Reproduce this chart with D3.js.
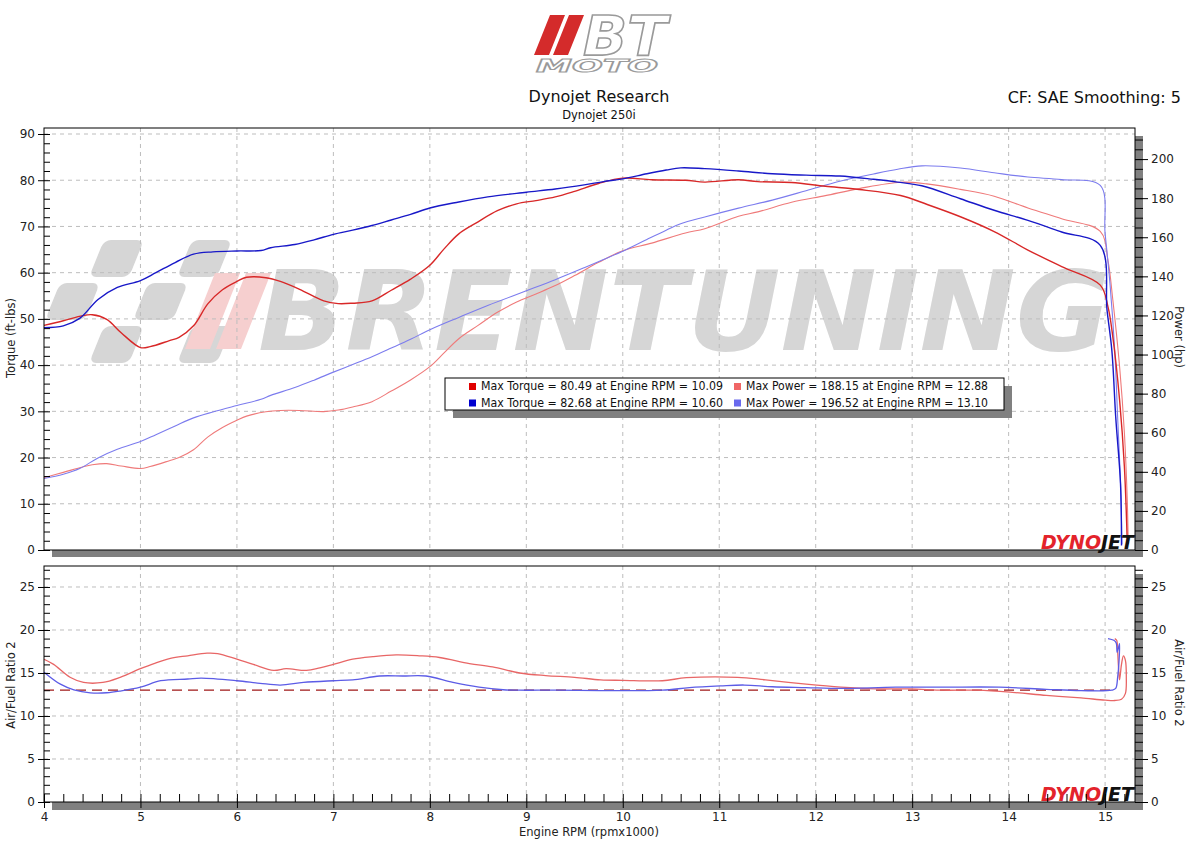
<!DOCTYPE html>
<html><head><meta charset="utf-8">
<script src="https://cdn.jsdelivr.net/npm/d3@7/dist/d3.min.js"></script>
<style>
body{margin:0;background:#fff}
svg{display:block}
text{font-family:"DejaVu Sans",Verdana,sans-serif}
</style>
</head><body>
<svg id="c" width="1200" height="854"></svg>
<script>
// ---------------- DATA ----------------
const title = "Dynojet Research";
const subtitle = "Dynojet 250i";
const corrText = "CF: SAE Smoothing: 5";
const legendRows = [
  ["Max Torque = 80.49 at Engine RPM = 10.09", "Max Power = 188.15 at Engine RPM = 12.88"],
  ["Max Torque = 82.68 at Engine RPM = 10.60", "Max Power = 196.52 at Engine RPM = 13.10"]
];
const rpmTicks = [4,5,6,7,8,9,10,11,12,13,14,15];
const torqueTicks = [0,10,20,30,40,50,60,70,80,90];
const powerTicks = [0,20,40,60,80,100,120,140,160,180,200];
const afrTicks = [0,5,10,15,20,25];
const afrTarget = 13;

// Run 1 (red)
const rpmTorque1 = [4.0,4.2,4.4,4.5,4.65,4.8,5.0,5.1,5.3,5.4,5.55,5.7,5.85,6.0,6.1,6.3,6.45,6.65,6.9,7.05,7.2,7.4,7.6,7.8,8.0,8.15,8.3,8.5,8.7,8.9,9.1,9.3,9.5,9.75,10.0,10.3,10.65,10.85,11.2,11.4,11.75,12.1,12.45,12.88,13.15,13.5,13.85,14.2,14.55,14.95,15.03,15.08,15.15,15.2,15.23];
const torque1 = [48.6,49.6,50.7,50.9,49.9,47.0,43.8,44.0,45.3,46.0,48.5,53.3,56.3,58.1,59.0,58.9,58.1,56.4,53.9,53.3,53.4,53.9,56.2,58.6,61.6,65.2,68.4,71.0,73.4,74.9,75.6,76.4,77.6,79.3,80.45,80.1,80.0,79.6,80.1,79.7,79.5,78.7,78.0,76.7,74.8,72.1,68.9,64.9,61.3,57.3,52.6,46.1,32.5,18.0,1.5];
const rpmPower1 = [4.0,4.2,4.4,4.5,4.65,4.8,5.0,5.1,5.3,5.4,5.55,5.7,5.85,6.0,6.1,6.3,6.45,6.65,6.9,7.05,7.2,7.4,7.6,7.8,8.0,8.15,8.3,8.5,8.7,8.9,9.1,9.3,9.5,9.75,10.0,10.3,10.65,10.85,11.2,11.4,11.75,12.1,12.45,12.88,13.15,13.5,13.85,14.2,14.55,14.95,15.03,15.08,15.15,15.2,15.23,15.24];
const power1 = [37.0,39.7,42.5,43.6,44.2,43.0,41.7,42.7,45.7,47.3,51.3,57.9,62.7,66.4,68.5,70.7,71.4,71.4,70.8,71.6,73.2,75.9,81.3,87.0,93.8,101.0,108.1,114.9,121.6,126.9,131.0,135.3,140.4,147.2,153.1,157.0,162.2,164.4,170.8,173.0,177.9,181.3,184.9,188.15,187.3,184.5,181.0,175.0,169.5,163.0,148,128,94,60,25,3];

// Run 2 (blue)
const rpmTorque2 = [4.0,4.2,4.37,4.56,4.76,5.0,5.16,5.36,5.55,5.75,6.0,6.25,6.35,6.6,6.8,7.0,7.2,7.4,7.6,7.8,8.0,8.3,8.6,9.0,9.3,9.6,9.8,10.0,10.25,10.45,10.6,10.85,11.2,11.55,11.9,12.25,12.6,12.85,13.1,13.5,13.85,14.2,14.55,14.95,15.02,15.07,15.11,15.16,15.17];
const torque2 = [48.1,48.5,50.1,54.2,56.8,58.3,60.0,62.2,64.0,64.5,64.7,64.8,65.4,66.1,67.1,68.3,69.2,70.2,71.4,72.6,74.0,75.3,76.4,77.4,78.1,79.0,79.7,80.3,81.4,82.2,82.68,82.5,82.0,81.4,81.1,80.9,80.2,79.6,78.8,76.0,73.5,71.3,68.8,65.9,51.9,43.2,28.8,14.3,1.0];
const rpmPower2 = [4.0,4.2,4.37,4.56,4.76,5.0,5.16,5.36,5.55,5.75,6.0,6.25,6.35,6.6,6.8,7.0,7.2,7.4,7.6,7.8,8.0,8.3,8.6,9.0,9.3,9.6,9.8,10.0,10.25,10.45,10.6,10.85,11.2,11.55,11.9,12.25,12.6,12.85,13.1,13.5,13.85,14.2,14.55,14.95,15.0,15.05,15.1,15.13,15.16,15.175];
const power2 = [36.6,38.8,41.7,47.1,51.5,55.5,59.0,63.5,67.6,70.6,73.9,77.1,79.1,83.1,86.9,91.0,94.9,98.9,103.3,107.8,112.7,119.0,125.1,132.6,138.3,144.4,148.6,152.9,158.9,163.6,166.9,170.4,174.9,179.0,183.8,188.7,192.4,194.8,196.52,195.4,193.0,190.8,189.5,186.5,162,136.6,102,68,34,3];

// Air/Fuel ratio
const rpmAfr1 = [4.0,4.1,4.27,4.41,4.61,4.79,5.0,5.14,5.31,5.49,5.69,5.8,6.0,6.17,6.38,6.51,6.72,6.86,7.0,7.2,7.41,7.65,7.89,8.1,8.41,8.65,8.93,9.2,9.5,9.77,10.0,10.41,10.66,11.19,11.48,11.9,12.26,12.62,12.97,13.33,13.68,14.04,14.39,14.75,15.0,15.1,15.17,15.21,15.22,15.21,15.19,15.17,15.15,15.14,15.13,15.12,15.1];
const afr1 = [16.6,16.0,14.5,13.9,13.9,14.5,15.5,16.1,16.7,17.0,17.3,17.25,16.6,16.0,15.3,15.5,15.3,15.6,16.0,16.6,16.9,17.1,17.0,16.8,16.1,15.7,15.0,14.7,14.5,14.2,14.15,14.1,14.45,14.5,14.2,13.7,13.35,13.15,13.15,13.0,13.0,12.75,12.4,12.1,11.85,11.8,11.95,12.6,14.5,16.5,17.0,16.0,14.2,15.5,17.5,18.8,19.0];
const rpmAfr2 = [4.0,4.17,4.31,4.48,4.65,4.79,5.0,5.21,5.49,5.63,6.0,6.24,6.45,6.69,7.0,7.2,7.48,7.72,7.96,8.24,8.51,8.76,8.93,9.3,9.77,10.41,10.69,11.01,11.26,11.55,11.9,12.26,12.83,13.33,13.9,14.39,14.75,15.07,15.11,15.13,15.145,15.15,15.14,15.125,15.115,15.09,15.03];
const afr2 = [15.1,13.7,13.05,12.7,12.7,12.9,13.35,14.1,14.3,14.4,14.1,13.8,13.6,13.9,14.1,14.2,14.65,14.65,14.65,13.9,13.35,13.05,13.0,13.0,12.95,13.0,13.3,13.5,13.6,13.4,13.3,13.2,13.35,13.35,13.35,13.1,12.95,13.0,13.2,14.5,16.5,18.4,18.0,17.4,18.5,18.8,19.0];

// ---------------- DRAW ----------------
const FONT = '"DejaVu Sans",Verdana,sans-serif';
const svg = d3.select('#c');
const X  = d3.scaleLinear().domain([4, 15.31]).range([44, 1135]);
const YT = d3.scaleLinear().domain([0, 91.3]).range([550, 128]);
const YP = d3.scaleLinear().domain([0, 215.9]).range([550, 128]);
const YA = d3.scaleLinear().domain([0, 27.44]).range([802, 566]);
const SH = '#808080';
const GRID = '#bdbdbd';

// header logo
const logo = svg.append('g');
logo.append('polygon').attr('points','550,15 565,15 549,55 534,55').attr('fill','#d42b2b');
logo.append('polygon').attr('points','569,15 584,15 568,55 553,55').attr('fill','#d42b2b');
const lt = logo.append('text').attr('font-family','"Liberation Sans",Arial,sans-serif')
  .attr('font-weight','bold').attr('font-style','italic').attr('fill','#fff').attr('stroke','#9a9a9a');
lt.append('tspan').attr('x',583).attr('y',55).attr('font-size',56).attr('stroke-width',1.6)
  .attr('textLength',84).attr('lengthAdjust','spacingAndGlyphs').text('BT');
lt.append('tspan').attr('x',536).attr('y',72).attr('font-size',17).attr('stroke-width',1)
  .attr('textLength',122).attr('lengthAdjust','spacingAndGlyphs').text('MOTO');

svg.append('text').attr('x',599).attr('y',102).attr('text-anchor','middle').attr('font-size',16).attr('fill','#111').text(title);
svg.append('text').attr('x',599).attr('y',119).attr('text-anchor','middle').attr('font-size',11.5).attr('fill','#111').text(subtitle);
svg.append('text').attr('x',1181).attr('y',103).attr('text-anchor','end').attr('font-size',16).attr('fill','#111').text(corrText);

// panel backgrounds with drop shadows
svg.append('rect').attr('x',52).attr('y',136).attr('width',1091).attr('height',421).attr('fill',SH);
svg.append('rect').attr('x',44).attr('y',128).attr('width',1091).attr('height',422).attr('fill','#fff');
svg.append('rect').attr('x',52).attr('y',574).attr('width',1091).attr('height',236).attr('fill',SH);
svg.append('rect').attr('x',44).attr('y',566).attr('width',1091).attr('height',236).attr('fill','#fff');

// watermark (top panel)
svg.append('clipPath').attr('id','clipTop').append('rect').attr('x',44).attr('y',128).attr('width',1091).attr('height',422);
const wm = svg.append('g').attr('clip-path','url(#clipTop)');
const WMC = '#d6d6d6';
const chk = wm.append('g');
const cells = [[0,1],[0,3],[1,0],[1,2],[2,1],[2,3]];
cells.forEach(([r,c])=>{
  const y0 = 240 + r*43, x0 = 60 + c*44;
  chk.append('rect').attr('x',x0).attr('y',y0).attr('width',40).attr('height',37).attr('rx',7)
    .attr('fill',WMC).attr('transform',`skewX(-22) translate(${y0*0.404},0)`);
});
wm.append('polygon').attr('points','215,273 240,273 210,349 185,349').attr('fill','#f6cfcf');
wm.append('polygon').attr('points','246,273 271,273 241,349 216,349').attr('fill','#f6cfcf');
wm.append('text').attr('x',258).attr('y',350).attr('font-family','"Liberation Sans",Arial,sans-serif')
  .attr('font-weight','bold').attr('font-style','italic').attr('font-size',110)
  .attr('textLength',852).attr('lengthAdjust','spacingAndGlyphs').attr('fill',WMC).text('BRENTUNING');

// gridlines
function grid(y0, y1, yScale, yVals){
  const g = svg.append('g').attr('stroke',GRID).attr('stroke-dasharray','4,4').attr('stroke-width',1);
  g.selectAll('line.v').data(rpmTicks.slice(1)).join('line')
    .attr('x1',d=>X(d)).attr('x2',d=>X(d)).attr('y1',y0).attr('y2',y1);
  g.selectAll('line.h').data(yVals).join('line')
    .attr('x1',44).attr('x2',1135).attr('y1',d=>yScale(d)).attr('y2',d=>yScale(d));
}
grid(128, 550, YT, torqueTicks.slice(1));
grid(566, 802, YA, afrTicks.slice(1));

// curves
const lineT = d3.line().x(d=>X(d[0])).y(d=>YT(d[1])).curve(d3.curveCatmullRom.alpha(0.5));
const lineP = d3.line().x(d=>X(d[0])).y(d=>YP(d[1])).curve(d3.curveCatmullRom.alpha(0.5));
const lineA = d3.line().x(d=>X(d[0])).y(d=>YA(d[1])).curve(d3.curveCatmullRom.alpha(0.5));
const curves = svg.append('g').attr('fill','none').attr('stroke-linejoin','round');
curves.append('path').attr('d',lineP(d3.zip(rpmPower1,power1))).attr('stroke','#ef7a7a').attr('stroke-width',1.1);
curves.append('path').attr('d',lineP(d3.zip(rpmPower2,power2))).attr('stroke','#7c7cee').attr('stroke-width',1.1);
curves.append('path').attr('d',lineT(d3.zip(rpmTorque1,torque1))).attr('stroke','#d82828').attr('stroke-width',1.4);
curves.append('path').attr('d',lineT(d3.zip(rpmTorque2,torque2))).attr('stroke','#1818c8').attr('stroke-width',1.4);

// AFR
curves.append('line').attr('x1',X(4)).attr('x2',X(15.1)).attr('y1',YA(afrTarget)).attr('y2',YA(afrTarget))
  .attr('stroke','#a01818').attr('stroke-width',1.3).attr('stroke-dasharray','10,6');
curves.append('path').attr('d',lineA(d3.zip(rpmAfr1,afr1))).attr('stroke','#e86666').attr('stroke-width',1.3);
curves.append('path').attr('d',lineA(d3.zip(rpmAfr2,afr2))).attr('stroke','#5c5ce6').attr('stroke-width',1.3);

// frames
svg.append('rect').attr('x',44).attr('y',128).attr('width',1091).attr('height',422).attr('fill','none').attr('stroke','#000');
svg.append('rect').attr('x',44).attr('y',566).attr('width',1091).attr('height',236).attr('fill','none').attr('stroke','#000');

// legend
const lg = svg.append('g');
lg.append('rect').attr('x',453).attr('y',386).attr('width',559).attr('height',32).attr('fill',SH);
lg.append('rect').attr('x',445).attr('y',378).attr('width',559).attr('height',32).attr('fill','#fff').attr('stroke','#000');
const legColors = [['#e00000','#f06666'],['#0000d0','#6a6aee']];
legendRows.forEach((row,i)=>{
  const yb = 390 + i*16.5;
  row.forEach((t,j)=>{
    const sx = j===0 ? 469 : 734;
    lg.append('rect').attr('x',sx).attr('y',yb-7).attr('width',7).attr('height',7).attr('fill',legColors[i][j]);
    lg.append('text').attr('x',sx+12).attr('y',yb).attr('font-size',11.5).attr('fill','#111')
      .attr('textLength',242).attr('lengthAdjust','spacingAndGlyphs').text(t);
  });
});

// dynojet logos
function dyno(yb){
  const t = svg.append('text').attr('x',1041).attr('y',yb)
    .attr('font-family','"Liberation Sans",Arial,sans-serif').attr('font-weight','bold').attr('font-style','italic').attr('font-size',19)
    .attr('textLength',93).attr('lengthAdjust','spacingAndGlyphs');
  t.append('tspan').attr('fill','#e3232b').text('DYNO');
  t.append('tspan').attr('fill','#111').text('JET');
}
dyno(549); dyno(801);

// axes
function styleAxis(g){
  g.select('.domain').remove();
  g.selectAll('line').attr('stroke','#000');
  g.selectAll('text').attr('font-family',FONT).attr('font-size',12).attr('fill','#222');
}
svg.append('g').attr('transform','translate(44,0)').call(d3.axisLeft(YT).tickValues(torqueTicks).tickSize(6).tickPadding(3)).call(styleAxis);
svg.append('g').attr('transform','translate(44,0)').call(d3.axisRight(YT).tickValues(d3.range(0,91,2)).tickSize(6).tickFormat('')).call(styleAxis);
svg.append('g').attr('transform','translate(1135,0)').call(d3.axisRight(YP).tickValues(powerTicks).tickSize(13).tickPadding(3)).call(styleAxis);
svg.append('g').attr('transform','translate(1135,0)').call(d3.axisRight(YP).tickValues(d3.range(0,211,5)).tickSize(8).tickFormat('')).call(styleAxis);

svg.append('g').attr('transform','translate(44,0)').call(d3.axisLeft(YA).tickValues(afrTicks).tickSize(6).tickPadding(3)).call(styleAxis);
svg.append('g').attr('transform','translate(44,0)').call(d3.axisRight(YA).tickValues(d3.range(0,28,1)).tickSize(6).tickFormat('')).call(styleAxis);
svg.append('g').attr('transform','translate(1135,0)').call(d3.axisRight(YA).tickValues(afrTicks).tickSize(13).tickPadding(3)).call(styleAxis);
svg.append('g').attr('transform','translate(1135,0)').call(d3.axisRight(YA).tickValues(d3.range(0,28,1)).tickSize(8).tickFormat('')).call(styleAxis);

svg.append('g').attr('transform','translate(0,802)').call(d3.axisBottom(X).tickValues(rpmTicks).tickSize(6).tickPadding(4).tickFormat(d3.format('d'))).call(styleAxis);
svg.append('g').attr('transform','translate(0,802)').call(d3.axisTop(X).tickValues(d3.range(0,57).map(i=>4+i*0.2)).tickSize(8).tickFormat('')).call(styleAxis);

// axis titles
svg.append('text').attr('transform','translate(15,338) rotate(-90)').attr('text-anchor','middle').attr('font-size',11.5).attr('fill','#222').text('Torque (ft-lbs)');
svg.append('text').attr('transform','translate(1175,337) rotate(90)').attr('text-anchor','middle').attr('font-size',11.5).attr('fill','#222').text('Power (hp)');
svg.append('text').attr('transform','translate(15,685) rotate(-90)').attr('text-anchor','middle').attr('font-size',11.5).attr('fill','#222').text('Air/Fuel Ratio 2');
svg.append('text').attr('transform','translate(1175,683) rotate(90)').attr('text-anchor','middle').attr('font-size',11.5).attr('fill','#222').text('Air/Fuel Ratio 2');
svg.append('text').attr('x',589).attr('y',836).attr('text-anchor','middle').attr('font-size',11.5).attr('fill','#222').text('Engine RPM (rpmx1000)');
</script>
</body></html>
